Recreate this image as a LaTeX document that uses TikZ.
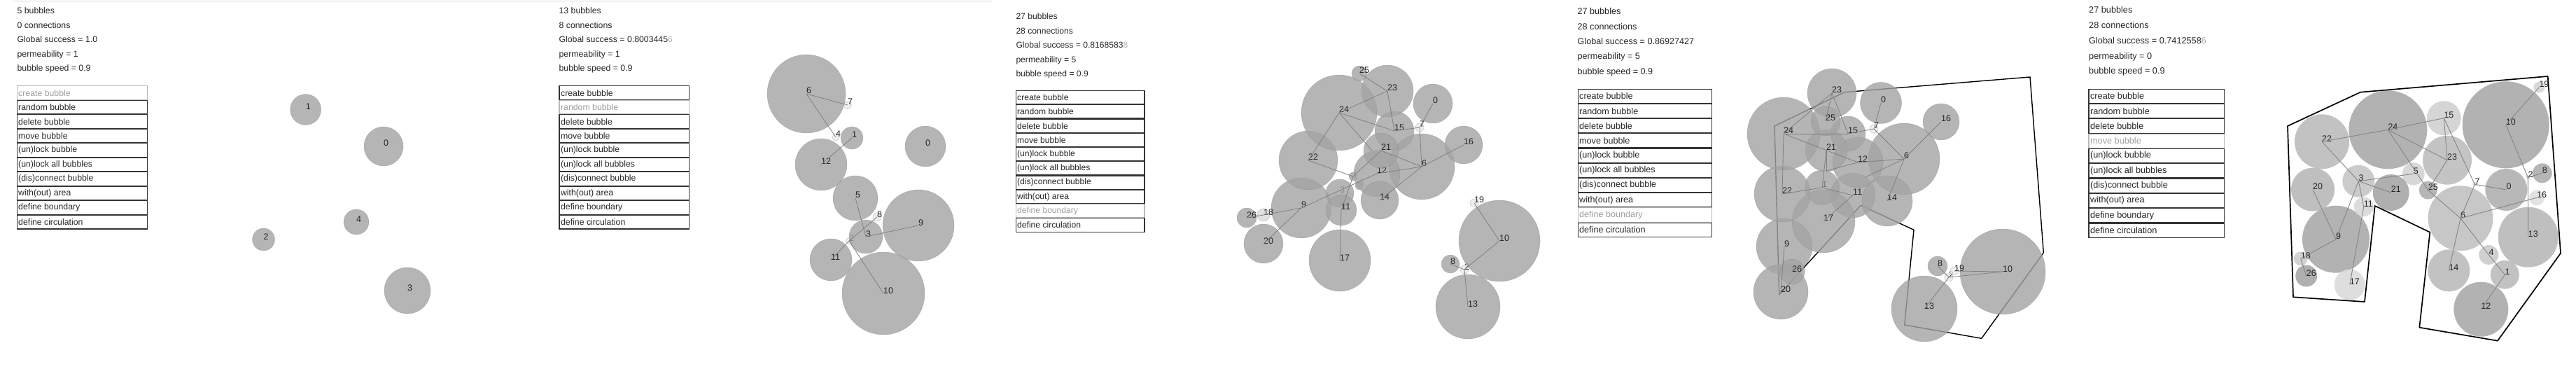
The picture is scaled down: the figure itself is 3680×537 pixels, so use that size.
\documentclass[tikz,border=0pt]{standalone}
\usepackage{fontspec}
\setmainfont{Liberation Sans}
\usetikzlibrary{positioning}

\begin{document}
\begin{tikzpicture}[x=1pt, y=-1pt,
    bubble/.style={circle, inner sep=0pt, fill opacity=0.8, draw=black!45, draw opacity=0.5, line width=0.5pt},
    bubbleflat/.style={circle, inner sep=0pt, fill opacity=0.92},
    lbl/.style={anchor=base west, inner sep=0pt, font=\fontsize{12.5}{14}\selectfont},
    link/.style={draw=black!50, line width=0.8pt},
    linkflat/.style={draw=black!48, line width=0.9pt},
    wall/.style={draw=black, line width=1.4pt, line join=round},
    info/.style={anchor=base west, inner sep=0pt, text=black!85},
    btn/.style={draw=black!80, line width=1.2pt, anchor=north west, inner sep=0pt},
    btnoff/.style={btn, draw=black!28},
    btntext/.style={inner sep=0pt, text=black!85},
    btntextoff/.style={btntext, text=black!38}]

\useasboundingbox (0,0) rectangle (3680,537);
\draw[black!15, line width=0.8pt] (19,1) -- (1417,1);

% menus
\foreach \p/\mx/\my/\mw/\mh/\off/\fs in {1/23.5/122.3/186.5/20.5/1/12.3, 2/798.4/122.3/185.6/20.5/2/12.3,
    3/1450.5/129/183.9/20.25/9/12.1, 4/2253.5/126.7/191.5/21.2/9/12.6, 5/2983.4/126.7/193.6/21.3/4/12.7}
  \foreach \bt [count=\i] in {create bubble, random bubble, delete bubble, move bubble, (un)lock bubble,
      (un)lock all bubbles, (dis)connect bubble, with(out) area, define boundary, define circulation}{
    \ifnum\i=\off\relax \def\mst{btnoff}\def\tst{btntextoff}\else \def\mst{btn}\def\tst{btntext}\fi
    \node[\mst, minimum width=\mw, minimum height=\mh-1] (m\p-\i) at (\mx, {\my+(\i-1)*\mh}) {};
    \node[\tst, font=\fontsize{\fs}{14}\selectfont, right=2.5pt of m\p-\i.west] (mt\p-\i) {\bt};
  }

% status lines
\foreach \txt [count=\i] in {5 bubbles, 0 connections, Global success = 1.0, permeability = 1, bubble speed = 0.9}
  \node[info, font=\fontsize{12.3}{14}\selectfont] (s1-\i) at (24.4, {19.7+(\i-1)*20.55}) {\txt};
\foreach \txt [count=\i] in {13 bubbles, 8 connections, {Global success = 0.8003445\textcolor{black!30}{6}}, permeability = 1, bubble speed = 0.9}
  \node[info, font=\fontsize{12.3}{14}\selectfont] (s2-\i) at (798.4, {19.7+(\i-1)*20.55}) {\txt};
\foreach \txt [count=\i] in {27 bubbles, 28 connections, {Global success = 0.8168583\textcolor{black!30}{8}}, permeability = 5, bubble speed = 0.9}
  \node[info, font=\fontsize{12.1}{14}\selectfont] (s3-\i) at (1451.3, {27.6+(\i-1)*20.55}) {\txt};
\foreach \txt [count=\i] in {27 bubbles, 28 connections, Global success = 0.86927427, permeability = 5, bubble speed = 0.9}
  \node[info, font=\fontsize{12.6}{14}\selectfont] (s4-\i) at (2253.5, {20.7+(\i-1)*21.4}) {\txt};
\foreach \txt [count=\i] in {27 bubbles, 28 connections, {Global success = 0.7412558\textcolor{black!35}{6}}, permeability = 0, bubble speed = 0.9}
  \node[info, font=\fontsize{12.7}{14}\selectfont] (s5-\i) at (2984, {19+(\i-1)*21.7}) {\txt};

% panel 1
\foreach \n/\x/\y/\r/\f/\l in {0/548/209/28/36/85, 1/436.6/156.5/22/36/85, 2/376.5/342/16/36/85,
    3/582/415/33/36/85, 4/509/317/18/36/85}{
  \node[bubble, minimum size=2*\r, fill=black!\f] (a\n) at (\x,\y) {};
  \node[lbl, text=black!\l] (la\n) at (a\n.center) {\n};
}

% panel 2
\foreach \n/\x/\y/\r/\f/\l in {0/1322/209/29/36/85, 1/1217/197/16/36/85, 2/1213/344/4.5/8/85,
    3/1237/338/24/36/85, 4/1194/196/5/8/85, 5/1222/283/32/36/85, 6/1152/134/56/36/85,
    7/1211/150/5.5/8/85, 8/1253/310/6/8/85, 9/1312/322/51/36/85, 10/1262/419/59/36/85,
    11/1187/371/30/36/85, 12/1173/235/37/36/85}{
  \node[bubble, minimum size=2*\r, fill=black!\f] (b\n) at (\x,\y) {};
  \node[lbl, text=black!\l] (lb\n) at (b\n.center) {\n};
}
\foreach \sa/\sb in {6/7, 6/4, 1/12, 5/3, 3/9, 2/8, 2/11, 2/10}
  \draw[link] (b\sa.center) -- (b\sb.center);

% panel 3
\coordinate (c4) at (1960,215);
\foreach \n/\x/\y/\r/\f/\l in {0/2047/148/28/36/85, 1/1933/252/6/36/35, 2/2092/385/6/8/85,
    3/1914/276/20/36/45, 5/1942/265/6/36/35, 6/2031/238/47/36/85, 7/2028/182/6/8/85,
    8/2072/377/13/36/85, 9/1859/297/43/36/85, 10/2142/344/58/36/85, 11/1916/300/22/36/85,
    12/1967/248/33/36/85, 13/2097/438/46/36/85, 14/1971/286/27/36/85, 15/1992/187/28/36/85,
    16/2091/207/27/36/85, 17/1914/372/44/36/85, 18/1805/307/9/15/85, 19/2106/290/6/8/85,
    20/1805/348/28/36/85, 21/1973/215/25/36/85, 22/1869/229/42/36/85, 23/1982/130/37/36/85,
    24/1913/161/54/36/85, 25/1942/105/11/36/85, 26/1781/311/14/36/85}{
  \node[bubble, minimum size=2*\r, fill=black!\f] (c\n) at (\x,\y) {};
  \node[lbl, text=black!\l] (lc\n) at (c\n.center) {\n};
}
\foreach \sa/\sb in {25/23, 23/24, 23/15, 24/15, 24/22, 24/4, 15/7, 7/0, 7/6, 16/6, 6/14, 6/21, 6/12,
    12/9, 22/1, 21/1, 1/11, 11/17, 9/18, 18/26, 9/20, 19/10, 10/2, 2/8, 2/13}
  \draw[link] (c\sa.center) -- (c\sb.center);

% panel 4
\draw[wall] (2900,110) -- (2635,131.7) -- (2535,180) -- (2541.7,420.7) -- (2658.3,293.3)
  -- (2734,328.3) -- (2720.7,464) -- (2830.7,483.3) -- (2919.3,361) -- cycle;
\coordinate (d3) at (2609,244);
\coordinate (d5) at (2665,253);
\foreach \n/\x/\y/\r/\f/\l in {0/2687/147/29.5/36/85, 1/2603/268/25/36/55, 2/2784/396/6/8/85,
    6/2720/227/51/36/85, 7/2677/184/6/8/85, 8/2768/380/14/36/85, 9/2549/352/40/36/85,
    10/2861/388/61/36/85, 11/2647/279/32/36/85, 12/2654/232/36/36/85, 13/2749/441/47/36/85,
    14/2696/287/36/36/85, 15/2640/191/25/36/85, 16/2773/174/26/36/85, 17/2605/316/45/36/85,
    19/2792/387/6/8/85, 20/2544/417/39/36/85, 21/2609/215/30/36/85, 22/2546/277/40/36/85,
    23/2617/133/35/36/85, 24/2548/191/52/36/85, 25/2608/173/21/36/85, 26/2560/388/18/36/85}{
  \node[bubble, minimum size=2*\r, fill=black!\f] (d\n) at (\x,\y) {};
  \node[lbl, text=black!\l] (ld\n) at (d\n.center) {\n};
}
\foreach \sa/\sb in {23/25, 23/24, 23/15, 24/15, 15/7, 7/0, 7/6, 16/6, 6/14, 6/12, 6/5, 24/12, 24/22,
    21/1, 21/3, 12/3, 22/1, 1/11, 11/17, 9/20, 10/2, 10/19, 2/13, 2/8}
  \draw[link] (d\sa.center) -- (d\sb.center);

% panel 5
\foreach \n/\x/\y/\r/\f/\l in {0/3580.3/271/30/30/85, 1/3578.3/392.3/20.5/26/85, 2/3611.3/253.3/3/15/85,
    3/3369.3/258.7/23/22/85, 4/3555.3/364/14/20/85, 5/3447.7/248.3/16/17/85, 6/3515/311.7/46.5/24/85,
    7/3535.3/263.3/3/15/85, 8/3631.7/247.3/14/31/85, 9/3337/341.7/48/33/85, 10/3579.7/178.3/62/33/85,
    11/3376.7/295.3/14/15/85, 12/3544.3/441.7/39/33/85, 13/3611.7/338.7/43/27/85, 14/3498.3/386.3/30/26/85,
    15/3491.3/168.7/24.5/18/85, 16/3624/282.3/11/12/85, 17/3356.7/406.7/22/14/85, 18/3286.7/369.3/10/19/85,
    19/3627.3/124.7/8/16/85, 20/3304/270.7/31/27/85, 21/3415.7/275/26/34/85, 22/3317/202.3/39/26/85,
    23/3496/228.7/35/25/85, 24/3411.3/185.3/56/33/85, 25/3468.7/271.7/13/31/85, 26/3294.7/394/15.5/34/85}{
  \node[bubbleflat, minimum size=2*\r, fill=black!\f] (e\n) at (\x,\y) {};
  \node[lbl, text=black!\l] (le\n) at (e\n.center) {\n};
}
\foreach \sa/\sb in {19/10, 10/2, 2/8, 2/13, 22/24, 24/15, 15/23, 15/7, 24/23, 24/25, 23/25, 25/6, 7/0,
    7/6, 6/16, 6/14, 6/4, 4/1, 1/12, 22/3, 3/5, 3/21, 3/9, 3/11, 11/17, 20/9, 9/18, 18/26}
  \draw[linkflat] (e\sa.center) -- (e\sb.center);
\draw[wall, line width=1.7pt] (3639.7,109) -- (3372,131.7) -- (3268,180) -- (3276,424.3) -- (3378,431)
  -- (3392.7,294) -- (3471.3,331.7) -- (3456.3,467.7) -- (3568,486.7) -- (3658,361.7) -- cycle;

\end{tikzpicture}
\end{document}
